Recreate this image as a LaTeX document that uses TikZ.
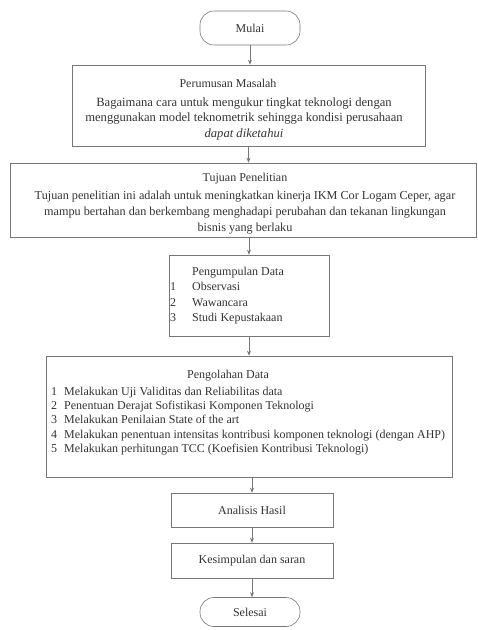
\documentclass[tikz,border=0pt]{standalone}
\usepackage{fontspec}
\setmainfont{Liberation Serif}
\usetikzlibrary{arrows.meta}
\definecolor{ln}{HTML}{777777}
\definecolor{tx}{HTML}{333333}
\tikzset{
  box/.style={draw=ln, line width=0.6pt, inner sep=0pt},
  term/.style={draw=ln, line width=0.6pt, rounded corners=14pt, inner sep=0pt},
  txt/.style={text=tx, font=\fontsize{12}{15.5}\selectfont, inner sep=0pt, align=center},
  conn/.style={draw=ln, line width=0.6pt, -{Stealth[length=5pt,width=4pt]}}
}
\begin{document}
\begin{tikzpicture}[x=1pt,y=-1pt]
\useasboundingbox (0,0) rectangle (478,630);
% boxes
\node[term, minimum width=100pt, minimum height=34pt] (mulai) at (250,28) {};
\node[box, minimum width=353pt, minimum height=81pt] (rumus) at (248.5,105.5) {};
\node[box, minimum width=466pt, minimum height=74pt] (tujuan) at (243,200) {};
\node[box, minimum width=160pt, minimum height=81pt] (kumpul) at (249,295.5) {};
\node[box, minimum width=406pt, minimum height=121pt] (olah) at (249,416.5) {};
\node[box, minimum width=162pt, minimum height=34pt] (analisis) at (252,510) {};
\node[box, minimum width=162pt, minimum height=35pt] (simpul) at (252,560.5) {};
\node[term, minimum width=100pt, minimum height=29pt] (selesai) at (250,612) {};
% texts
\node[txt] (tmulai) at (mulai) {Mulai};
\node[txt] (trumush) at (228,83) {Perumusan Masalah};
\node[txt, font=\fontsize{12.6}{15.5}\selectfont] (trumusb) at (244,118.5) {Bagaimana cara untuk mengukur tingkat teknologi dengan\\menggunakan model teknometrik sehingga kondisi perusahaan\\\textit{dapat diketahui}};
\node[txt] (ttujuanh) at (245,179) {Tujuan Penelitian};
\node[txt, font=\fontsize{12.2}{16}\selectfont] (ttujuanb) at (245,212.5) {Tujuan penelitian ini adalah untuk meningkatkan kinerja IKM Cor Logam Ceper, agar\\mampu bertahan dan berkembang menghadapi perubahan dan tekanan lingkungan\\bisnis yang berlaku};
\node[txt, anchor=north west] (tkumpul) at (170,264) {\begin{tabular}{@{}l@{\hspace{16pt}}l@{}}
 & Pengumpulan Data\\
1 & Observasi\\
2 & Wawancara\\
3 & Studi Kepustakaan
\end{tabular}};
\node[txt] (tolahh) at (228,376) {Pengolahan Data};
\node[txt, anchor=north west, font=\fontsize{12}{14.3}\selectfont] (tolahb) at (51,385) {\begin{tabular}{@{}l@{\hspace{7pt}}l@{}}
1 & Melakukan Uji Validitas dan Reliabilitas data\\
2 & Penentuan Derajat Sofistikasi Komponen Teknologi\\
3 & Melakukan Penilaian State of the art\\
4 & Melakukan penentuan intensitas kontribusi komponen teknologi (dengan AHP)\\
5 & Melakukan perhitungan TCC (Koefisien Kontribusi Teknologi)
\end{tabular}};
\node[txt] (tanalisis) at (analisis) {Analisis Hasil};
\node[txt] (tsimpul) at (simpul) {Kesimpulan dan saran};
\node[txt] (tselesai) at (selesai) {Selesai};
% connectors
\draw[conn] (mulai) -- (mulai.south |- rumus.north);
\draw[conn] (rumus.south) -- (rumus.south |- tujuan.north);
\draw[conn] (tujuan.south -| kumpul.north) -- (kumpul.north);
\draw[conn] (kumpul.south) -- (kumpul.south |- olah.north);
\draw[conn] (olah.south -| analisis.north) -- (analisis.north);
\draw[conn] (analisis.south) -- (simpul.north);
\draw[conn] (simpul.south) -- (simpul.south |- selesai.north);
\end{tikzpicture}
\end{document}
